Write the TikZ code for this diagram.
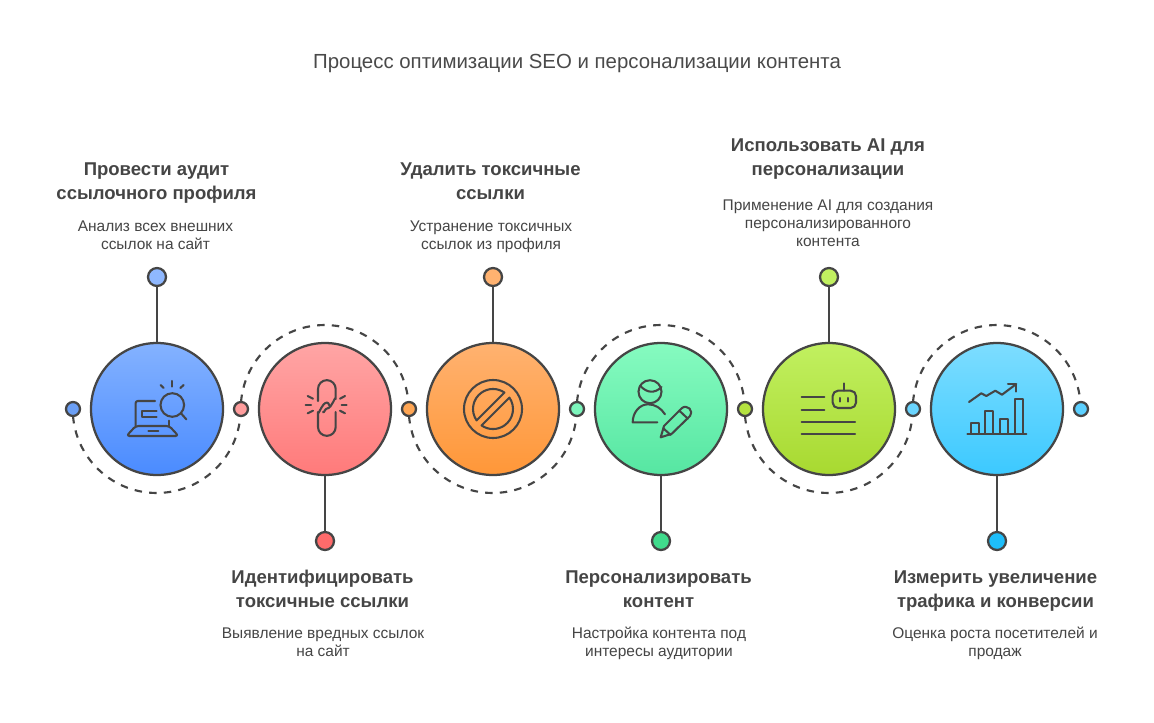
\documentclass[tikz,border=0pt]{standalone}
\usepackage{fontspec}
\setmainfont{Liberation Sans}
\definecolor{ink}{HTML}{454545}
\definecolor{titlec}{HTML}{4A4A4A}
\tikzset{
  conn/.style={draw=ink,line width=1.7pt},
  arcline/.style={draw=ink,line width=1.6pt,dash pattern=on 5.6pt off 5.4pt},
  disc/.style={circle,draw=ink,line width=1.7pt,minimum size=99pt,inner sep=0pt,outer sep=0pt},
  dot/.style={circle,draw=ink,line width=1.7pt,minimum size=10.5pt,inner sep=0pt,outer sep=0pt},
  pinhead/.style={circle,draw=ink,line width=1.7pt,minimum size=13.5pt,inner sep=0pt,outer sep=0pt},
  icon/.style={draw=ink,line width=1.55pt,line cap=round,line join=round},
  heading/.style={align=center,text=ink,inner sep=0pt,font=\fontsize{13.9}{18}\selectfont\bfseries},
  body/.style={align=center,text=ink,inner sep=0pt,font=\fontsize{11.6}{13.5}\selectfont},
  titlenode/.style={align=center,text=titlec,inner sep=0pt,font=\fontsize{15.3}{18}\selectfont},
}
\begin{document}
\begin{tikzpicture}[x=0.75pt,y=-0.75pt]
\useasboundingbox (0,0) rectangle (1154,722);
\fill[white] (0,0) rectangle (1154,722);
\node[titlenode] (title) at (577,63) {Процесс оптимизации SEO и персонализации контента};
% small dots
\node[dot,fill={rgb,255:red,107;green,159;blue,245}] (d1) at (73,409) {};
\node[dot,fill={rgb,255:red,255;green,157;blue,157}] (d2) at (241,409) {};
\node[dot,fill={rgb,255:red,255;green,166;blue,84}] (d3) at (409,409) {};
\node[dot,fill={rgb,255:red,124;green,245;blue,188}] (d4) at (577,409) {};
\node[dot,fill={rgb,255:red,181;green,227;blue,64}] (d5) at (745,409) {};
\node[dot,fill={rgb,255:red,106;green,213;blue,255}] (d6) at (913,409) {};
\node[dot,fill={rgb,255:red,92;green,208;blue,255}] (d7) at (1081,409) {};
% dashed arcs
\draw[arcline] (d1.south) arc[start angle=175.2,end angle=4.8,radius=84];
\draw[arcline] (d2.north) arc[start angle=-175.2,end angle=-4.8,radius=84];
\draw[arcline] (d3.south) arc[start angle=175.2,end angle=4.8,radius=84];
\draw[arcline] (d4.north) arc[start angle=-175.2,end angle=-4.8,radius=84];
\draw[arcline] (d5.south) arc[start angle=175.2,end angle=4.8,radius=84];
\draw[arcline] (d6.north) arc[start angle=-175.2,end angle=-4.8,radius=84];
% large discs
\node[disc,top color={rgb,255:red,132;green,178;blue,255},bottom color={rgb,255:red,74;green,139;blue,255}] (c1) at (157,409) {};
\node[disc,top color={rgb,255:red,255;green,165;blue,165},bottom color={rgb,255:red,255;green,122;blue,122}] (c2) at (325,409) {};
\node[disc,top color={rgb,255:red,255;green,178;blue,112},bottom color={rgb,255:red,255;green,151;blue,56}] (c3) at (493,409) {};
\node[disc,top color={rgb,255:red,134;green,251;blue,192},bottom color={rgb,255:red,86;green,230;blue,162}] (c4) at (661,409) {};
\node[disc,top color={rgb,255:red,193;green,240;blue,96},bottom color={rgb,255:red,168;green,217;blue,48}] (c5) at (829,409) {};
\node[disc,top color={rgb,255:red,125;green,221;blue,255},bottom color={rgb,255:red,60;green,201;blue,255}] (c6) at (997,409) {};
% pins
\node[pinhead,fill={rgb,255:red,143;green,184;blue,255}] (p1) at (157,277) {};
\node[pinhead,fill={rgb,255:red,255;green,107;blue,107}] (p2) at (325,541) {};
\node[pinhead,fill={rgb,255:red,255;green,178;blue,112}] (p3) at (493,277) {};
\node[pinhead,fill={rgb,255:red,64;green,219;blue,140}] (p4) at (661,541) {};
\node[pinhead,fill={rgb,255:red,193;green,240;blue,96}] (p5) at (829,277) {};
\node[pinhead,fill={rgb,255:red,30;green,190;blue,250}] (p6) at (997,541) {};
\draw[conn] (p1) -- (c1);
\draw[conn] (p2) -- (c2);
\draw[conn] (p3) -- (c3);
\draw[conn] (p4) -- (c4);
\draw[conn] (p5) -- (c5);
\draw[conn] (p6) -- (c6);
% texts
\node[heading] (h1) at (156.5,183) {Провести аудит\\ссылочного профиля};
\node[body] (b1) at (155.5,235) {Анализ всех внешних\\ссылок на сайт};
\node[heading] (h2) at (322.5,589) {Идентифицировать\\токсичные ссылки};
\node[body] (b2) at (323,642) {Выявление вредных ссылок\\на сайт};
\node[heading] (h3) at (490.5,181) {Удалить токсичные\\ссылки};
\node[body] (b3) at (491,237) {Устранение токсичных\\ссылок из профиля};
\node[heading] (h4) at (828,159) {Использовать AI для\\персонализации};
\node[body] (b4) at (828,223) {Применение AI для создания\\персонализированного\\контента};
\node[heading] (h5) at (658.5,589) {Персонализировать\\контент};
\node[body] (b5) at (659,643) {Настройка контента под\\интересы аудитории};
\node[heading] (h6) at (995.5,591) {Измерить увеличение\\трафика и конверсии};
\node[body] (b6) at (995,643) {Оценка роста посетителей и\\продаж};
% icon 1: laptop and magnifier
\begin{scope}[icon]
\draw (172.3,405) circle[radius=11.8];
\draw (181,413.3) -- (186.3,419.3);
\draw (172,381) -- (172,386.7);
\draw (160.7,385) -- (163.7,388);
\draw (183.7,385) -- (180.3,388);
\draw (155,401) -- (137.7,401) to[out=180,in=90] (135.7,403) -- (135.7,426);
\draw (169.3,420.7) -- (169.3,426);
\draw[rounded corners=2.2pt] (135.7,426) -- (126.5,436) -- (178.5,436) -- (169.3,426) -- cycle;
\draw (156.7,411) -- (141.7,411) -- (141.7,416.7) -- (156.7,416.7);
\draw (148.3,431.3) -- (158.3,431.3);
% icon 2: broken chain
\draw (318,401) -- (318,389) arc[start angle=180,end angle=360,radius=8.85] -- (335.7,399) to[out=90,in=0] (327,408.5) to[out=180,in=-60] (323,412);
\draw (330.5,406) to[out=-120,in=0] (327,402.5) to[out=180,in=-90] (318,412) -- (318,427) arc[start angle=180,end angle=0,radius=8.85] -- (335.7,412);
\draw (307.7,396) -- (313,398.7);
\draw (305.7,404.7) -- (311,404.7);
\draw (307.7,413.3) -- (313,410.7);
\draw (345,396) -- (340,398.7);
\draw (346.7,404.7) -- (341.7,404.7);
\draw (345,413.3) -- (340,410.7);
% icon 3: forbidden sign
\draw (493,409) circle[radius=29];
\draw (476.6,420.4) arc[start angle=145.1,end angle=304.9,radius=20] -- cycle;
\draw (509.4,397.6) arc[start angle=-34.9,end angle=124.9,radius=20] -- cycle;
% icon 4: person with pencil
\draw (650,391.7) circle[radius=11.5];
\draw (640,385.5) .. controls (647,393.5) and (655,393.5) .. (661.5,387);
\draw (657.3,422.3) -- (632.7,422.3) .. controls (632.7,412) and (640,404.3) .. (648,404.3) .. controls (655,404.3) and (661,408) .. (665,414.3);
\draw (660.7,437.3) -- (664,426) -- (681.7,408.3) .. controls (684,406) and (687.5,406.5) .. (689.5,408.5) .. controls (691.5,410.5) and (692,414) .. (690,416) -- (671.7,433.8) -- cycle;
\draw (679.3,410.7) -- (687.8,418.6);
\draw (663.3,428.3) -- (670.7,435);
% icon 5: text and robot
\draw (801.7,397.3) -- (824.3,397.3);
\draw (801.7,410) -- (824.3,410);
\draw (801.7,422) -- (855,422);
\draw (801.7,433.7) -- (855,433.7);
\draw[rounded corners=4pt] (832.7,390.7) rectangle (856,408);
\draw (844.3,383.3) -- (844.3,390.7);
\draw (840,398) -- (840,401.7);
\draw (848.3,398) -- (848.3,401.7);
% icon 6: growth chart
\draw (967.3,433.7) -- (1026.3,433.7);
\draw (970.7,433.7) -- (970.7,423.3) -- (978.7,423.3) -- (978.7,433.7);
\draw (985.3,433.7) -- (985.3,411) -- (993.3,411) -- (993.3,433.7);
\draw (1000.3,433.7) -- (1000.3,418.7) -- (1008.3,418.7) -- (1008.3,433.7);
\draw (1015.3,433.7) -- (1015.3,398.7) -- (1023.3,398.7) -- (1023.3,433.7);
\draw (969,402) -- (981.3,393.3) -- (986.3,396) -- (995.3,390.7) -- (1002,394.7) -- (1016.3,384);
\draw (1008,384) -- (1016.3,384) -- (1016.3,391.7);
\end{scope}
\end{tikzpicture}
\end{document}
